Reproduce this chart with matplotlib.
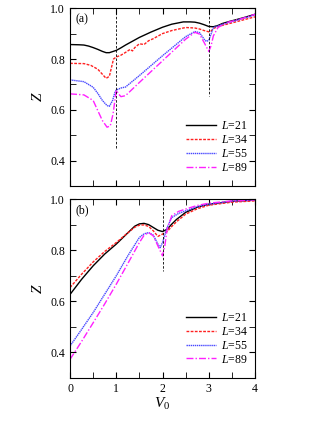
import matplotlib.pyplot as plt
from matplotlib.ticker import MultipleLocator

plt.rcParams['font.family'] = ['Liberation Serif', 'DejaVu Serif']
plt.rcParams['mathtext.fontset'] = 'custom'
plt.rcParams['mathtext.rm'] = 'Liberation Serif'
plt.rcParams['mathtext.it'] = 'Liberation Serif:italic'

# ---- panel (a) data ----
va_21 = [0.0, 0.2, 0.3, 0.4, 0.5, 0.6, 0.7, 0.78, 0.85, 0.9, 1.0, 1.1, 1.2, 1.35, 1.5, 1.75, 2.0, 2.2, 2.45, 2.6, 2.7, 2.8, 2.9, 3.0, 3.1, 3.2, 3.3, 3.45, 3.6, 3.8, 4.0]
za_21 = [0.857, 0.856, 0.855, 0.851, 0.845, 0.838, 0.830, 0.825, 0.825, 0.828, 0.834, 0.844, 0.855, 0.870, 0.885, 0.906, 0.925, 0.937, 0.946, 0.946, 0.945, 0.941, 0.935, 0.928, 0.927, 0.932, 0.940, 0.948, 0.955, 0.965, 0.976]

va_34 = [0.0, 0.3, 0.45, 0.6, 0.7, 0.78, 0.85, 0.9, 0.94, 1.0, 1.1, 1.2, 1.3, 1.35, 1.4, 1.5, 1.6, 1.7, 1.8, 2.0, 2.2, 2.5, 2.7, 2.8, 2.9, 3.0, 3.05, 3.1, 3.2, 3.5, 4.0]
za_34 = [0.783, 0.782, 0.775, 0.760, 0.740, 0.724, 0.732, 0.770, 0.800, 0.808, 0.815, 0.826, 0.838, 0.832, 0.845, 0.860, 0.857, 0.872, 0.880, 0.900, 0.912, 0.924, 0.922, 0.918, 0.912, 0.907, 0.910, 0.920, 0.928, 0.942, 0.966]

va_55 = [0.0, 0.3, 0.5, 0.6, 0.7, 0.8, 0.85, 0.92, 0.97, 1.0, 1.1, 1.2, 1.5, 2.0, 2.5, 2.7, 2.8, 2.9, 2.95, 3.0, 3.05, 3.1, 3.3, 3.6, 4.0]
za_55 = [0.718, 0.711, 0.689, 0.665, 0.637, 0.617, 0.614, 0.637, 0.668, 0.678, 0.686, 0.690, 0.735, 0.813, 0.888, 0.908, 0.904, 0.878, 0.869, 0.874, 0.898, 0.924, 0.937, 0.952, 0.974]

va_89 = [0.0, 0.3, 0.5, 0.6, 0.7, 0.8, 0.87, 0.93, 0.97, 1.0, 1.05, 1.1, 1.2, 1.5, 2.0, 2.5, 2.7, 2.8, 2.9, 3.0, 3.05, 3.1, 3.2, 3.4, 3.7, 4.0]
za_89 = [0.663, 0.659, 0.637, 0.597, 0.558, 0.532, 0.537, 0.584, 0.637, 0.678, 0.663, 0.652, 0.656, 0.708, 0.793, 0.878, 0.905, 0.898, 0.865, 0.830, 0.852, 0.891, 0.924, 0.944, 0.958, 0.976]

# ---- panel (b) data ----
vb_21 = [0.0, 0.25, 0.5, 0.75, 1.0, 1.25, 1.4, 1.5, 1.6, 1.7, 1.8, 1.9, 2.0, 2.1, 2.2, 2.3, 2.5, 2.75, 3.0, 3.5, 4.0]
zb_21 = [0.627, 0.686, 0.739, 0.785, 0.824, 0.868, 0.894, 0.903, 0.905, 0.900, 0.889, 0.878, 0.873, 0.882, 0.902, 0.920, 0.948, 0.968, 0.980, 0.991, 0.996]

vb_34 = [0.0, 0.25, 0.5, 0.75, 1.0, 1.25, 1.4, 1.5, 1.6, 1.7, 1.8, 1.9, 2.0, 2.1, 2.2, 2.3, 2.5, 2.75, 3.0, 3.5, 4.0]
zb_34 = [0.654, 0.706, 0.754, 0.795, 0.830, 0.868, 0.890, 0.898, 0.899, 0.893, 0.876, 0.854, 0.863, 0.873, 0.893, 0.911, 0.941, 0.962, 0.976, 0.988, 0.993]

vb_55 = [0.0, 0.25, 0.5, 0.75, 1.0, 1.25, 1.5, 1.6, 1.7, 1.8, 1.9, 1.95, 2.0, 2.1, 2.2, 2.35, 2.5, 2.75, 3.0, 3.5, 4.0]
zb_55 = [0.425, 0.490, 0.556, 0.628, 0.700, 0.778, 0.850, 0.864, 0.869, 0.859, 0.824, 0.810, 0.830, 0.889, 0.928, 0.944, 0.954, 0.970, 0.980, 0.992, 0.997]

vb_89 = [0.0, 0.25, 0.5, 0.75, 1.0, 1.25, 1.5, 1.6, 1.7, 1.8, 1.9, 2.0, 2.05, 2.1, 2.2, 2.35, 2.5, 2.75, 3.0, 3.5, 4.0]
zb_89 = [0.373, 0.443, 0.516, 0.590, 0.667, 0.748, 0.830, 0.858, 0.869, 0.856, 0.817, 0.778, 0.817, 0.882, 0.935, 0.952, 0.961, 0.975, 0.984, 0.993, 0.997]

labels = ['$L$=21', '$L$=34', '$L$=55', '$L$=89']
colors = ['black', '#ff2020', '#4848ff', '#ff20ff']
styles = ['-', (0, (2, 1)), (0, (1, 0.5)), (0, (5, 1.5, 1, 1.5))]

fig = plt.figure(figsize=(3.32, 4.30), dpi=100)
ax_a = fig.add_axes([0.211, 0.567, 0.557, 0.414])
ax_b = fig.add_axes([0.211, 0.121, 0.557, 0.416])

data_a = [(va_21, za_21), (va_34, za_34), (va_55, za_55), (va_89, za_89)]
data_b = [(vb_21, zb_21), (vb_34, zb_34), (vb_55, zb_55), (vb_89, zb_89)]

for ax, data, tag in [(ax_a, data_a, '(a)'), (ax_b, data_b, '(b)')]:
    for (v, z), lab, c, ls in zip(data, labels, colors, styles):
        ax.plot(v, z, color=c, linestyle=ls, linewidth=1.0, label=lab)
    ax.set_xlim(0, 4)
    ax.set_ylim(0.3, 1.0)
    ax.xaxis.set_major_locator(MultipleLocator(1))
    ax.xaxis.set_minor_locator(MultipleLocator(0.5))
    ax.yaxis.set_major_locator(MultipleLocator(0.2))
    ax.yaxis.set_minor_locator(MultipleLocator(0.1))
    ax.tick_params(which='both', direction='in', top=True, right=True, labelsize=8.5)
    ax.tick_params(which='major', length=4)
    ax.tick_params(which='minor', length=4)
    ax.set_ylabel('$Z$', fontsize=11, labelpad=4)
    ax.text(0.03, 0.97, tag, transform=ax.transAxes, fontsize=8.5, va='top', ha='left')
    ax.legend(loc='lower right', bbox_to_anchor=(1.0, 0.03), frameon=False,
              fontsize=8.5, handlelength=2.6, handletextpad=0.4, labelspacing=0.15,
              borderaxespad=0.2)

# dashed guide lines
ax_a.plot([1, 1], [1.0, 0.447], color='black', linestyle=(0, (3, 2)), linewidth=0.6)
ax_a.plot([3, 3], [1.0, 0.654], color='black', linestyle=(0, (3, 2)), linewidth=0.6)
ax_b.plot([2, 2], [1.0, 0.72], color='black', linestyle=(0, (3, 2)), linewidth=0.6)

ax_a.set_xticklabels([])
ax_b.set_xlabel('$V_0$', fontsize=11, labelpad=1)

fig.savefig('out.png', dpi=100, facecolor='white')
